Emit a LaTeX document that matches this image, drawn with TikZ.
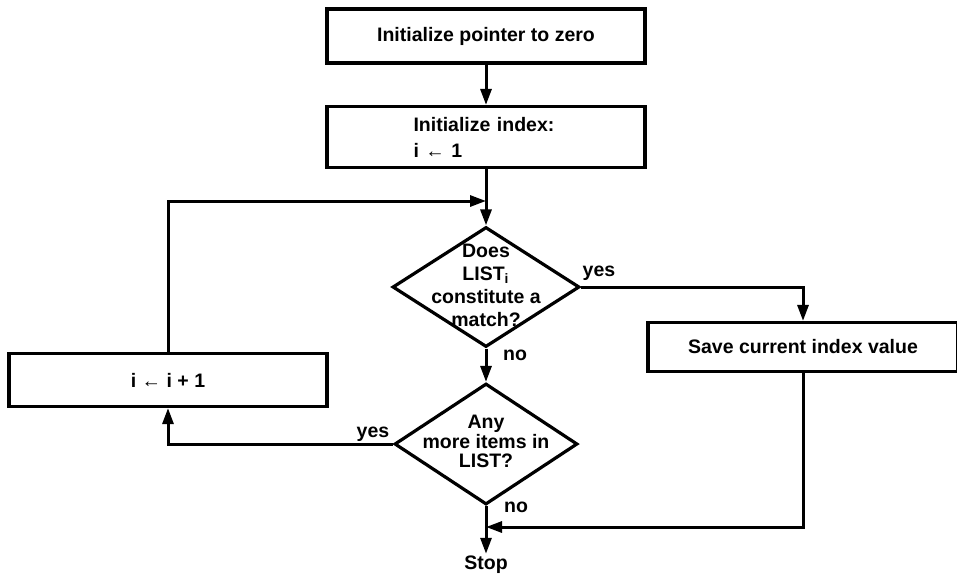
\documentclass[tikz,border=0pt]{standalone}
\usepackage{fontspec}
\setmainfont{Liberation Sans}
\usetikzlibrary{arrows.meta, shapes.geometric}
\newcommand{\dtext}[1]{\makebox[0pt]{\smash{\raisebox{-2.5pt}{\begin{tabular}{@{}c@{}}#1\end{tabular}}}}}

\begin{document}
\begin{tikzpicture}[x=0.5pt, y=-0.5pt,
  every node/.style={font=\fontsize{9.75}{11}\selectfont\bfseries},
  box/.style={draw, line width=1.6pt, minimum width=159pt, minimum height=27pt, inner sep=0pt},
  decision/.style={draw, diamond, line width=1.6pt, inner sep=0pt},
  lbl/.style={inner sep=1pt},
  arr/.style={-{Triangle[length=8pt, width=5.5pt]}, line width=1.5pt}
]
  \useasboundingbox[fill=white] (0,0) rectangle (957,574);

  \node[box] (init) at (486,36) {Initialize pointer to zero};
  \node[box, minimum height=30.5pt, text width=72.5pt, inner xsep=43pt, align=left,
        font=\fontsize{9.75}{13}\selectfont\bfseries] (idx) at (486,137) {Initialize index:\\i ← 1};

  \node[decision, minimum width=93.5pt, minimum height=60pt,
        font=\fontsize{9.75}{11.5}\selectfont\bfseries] (d1) at (486,287)
    {\dtext{Does\\LIST\textsubscript{i}\\constitute a\\match?}};
  \node[decision, minimum width=91.5pt, minimum height=60.5pt,
        font=\fontsize{9.75}{9.75}\selectfont\bfseries] (d2) at (486,444)
    {\dtext{Any\\more items in\\LIST?}};

  \node[box, minimum height=26.5pt] (inc) at (168,380) {i ← i + 1};
  \node[box, minimum width=155pt, minimum height=24.5pt] (save) at (803,347) {Save current index value};

  \node[inner sep=1pt] (stop) at (486,565) {Stop};

  \node[lbl] (y1) at (599,273) {yes};
  \node[lbl] (n1) at (515,355) {no};
  \node[lbl] (y2) at (373,434) {yes};
  \node[lbl] (n2) at (516,507) {no};

  \coordinate (j1) at (486,201);
  \coordinate (j2) at (486,527);

  \draw[arr] (init) -- (idx);
  \draw[arr] (idx) -- (d1);
  \draw[arr] (inc.north) |- (j1);
  \draw[arr] (d1.east) -| (save.north);
  \draw[arr] (d1) -- (d2);
  \draw[arr] (d2.west) -| (inc.south);
  \draw[arr] (save.south) |- (j2);
  \draw[arr] (d2) -- (stop);
\end{tikzpicture}
\end{document}
